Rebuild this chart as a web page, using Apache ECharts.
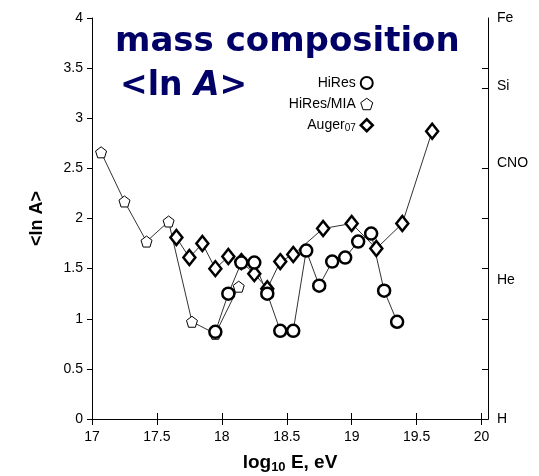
<!DOCTYPE html>
<html>
<head>
<meta charset="utf-8">
<script src="https://cdn.jsdelivr.net/npm/echarts@6/dist/echarts.min.js"></script>
<style>
  html, body { margin: 0; padding: 0; background: #fff; }
  #chart { width: 539px; height: 476px; }
</style>
</head>
<body>
<div id="chart"></div>
<script>
// HiRes
var hiresE = [17.95, 18.05, 18.15, 18.25, 18.35, 18.45, 18.55, 18.65, 18.75, 18.85, 18.95, 19.05, 19.15, 19.25, 19.35]
var hiresLnA = [0.87, 1.25, 1.56, 1.56, 1.25, 0.88, 0.88, 1.68, 1.33, 1.57, 1.61, 1.77, 1.85, 1.28, 0.97]
// HiRes/MIA
var miaE = [17.07, 17.25, 17.42, 17.59, 17.77, 17.95, 18.13]
var miaLnA = [2.66, 2.17, 1.77, 1.97, 0.97, 0.85, 1.32]
// Auger07
var augerE = [17.65, 17.75, 17.85, 17.95, 18.05, 18.15, 18.25, 18.35, 18.45, 18.55, 18.78, 19.0, 19.19, 19.39, 19.62]
var augerLnA = [1.81, 1.61, 1.75, 1.50, 1.62, 1.57, 1.45, 1.30, 1.57, 1.64, 1.90, 1.95, 1.70, 1.95, 2.87]

var xTicks = [17, 17.5, 18, 18.5, 19, 19.5, 20]
var rightTicks = [0.5, 1, 1.5, 2, 2.5, 3.3, 3.5]
var elementNames = ['H', 'He', 'CNO', 'Si', 'Fe']
var elementLnA = [0, 1.39, 2.55, 3.32, 4]

function pairs(xs, ys) {
  return xs.map(function (x, i) { return [x, ys[i]] })
}

var pentagon = 'path://M0,-1 L0.951,-0.309 L0.588,0.809 L-0.588,0.809 L-0.951,-0.309 Z'
var font = 'Liberation Sans'

var chart = echarts.init(document.getElementById('chart'), null, { renderer: 'canvas' })

var option = {
  backgroundColor: '#fff',
  animation: false,
  title: [{
    text: 'mass composition',
    left: 115,
    top: 25,
    padding: 0,
    textStyle: { fontFamily: 'DejaVu Sans', fontWeight: 'bold', fontSize: 34, color: '#000066' }
  }, {
    text: '<ln {i|A}>',
    left: 120,
    top: 70,
    padding: 0,
    textStyle: {
      fontFamily: 'DejaVu Sans', fontWeight: 'bold', fontSize: 33, color: '#000066',
      rich: { i: { fontFamily: 'DejaVu Sans', fontWeight: 'bold', fontStyle: 'italic', fontSize: 33, color: '#000066' } }
    }
  }],
  legend: {
    orient: 'vertical',
    right: 160,
    top: 71,
    align: 'right',
    itemGap: 7,
    itemWidth: 12,
    itemHeight: 12,
    textStyle: {
      fontFamily: font, fontSize: 14, color: '#000',
      rich: { sub: { fontFamily: font, fontSize: 10, color: '#000', padding: [6, 0, 0, 0] } }
    },
    formatter: function (name) {
      return name == 'Auger07' ? 'Auger{sub|07}' : name
    },
    data: [
      { name: 'HiRes', icon: 'circle', itemStyle: { color: '#fff', borderColor: '#000', borderWidth: 2 } },
      { name: 'HiRes/MIA', icon: pentagon, itemStyle: { color: '#fff', borderColor: '#000', borderWidth: 1 } },
      { name: 'Auger07', icon: 'diamond', itemStyle: { color: '#fff', borderColor: '#000', borderWidth: 2.5 } }
    ]
  },
  grid: { left: 92, right: 51, top: 18, bottom: 57, outerBoundsMode: 'none', containLabel: false },
  xAxis: [{
    type: 'value',
    min: 17,
    max: 20.05,
    position: 'bottom',
    name: 'log{sub|10} E, eV',
    nameLocation: 'middle',
    nameGap: 33,
    nameTextStyle: {
      fontFamily: font, fontSize: 19, fontWeight: 'bold', color: '#000',
      rich: { sub: { fontFamily: font, fontSize: 13, fontWeight: 'bold', color: '#000', padding: [9, 0, 0, 0] } }
    },
    axisLine: { show: true, lineStyle: { color: '#000', width: 1 } },
    axisTick: { show: true, inside: true, length: 6, customValues: xTicks, lineStyle: { color: '#000' } },
    axisLabel: { customValues: xTicks, margin: 11, fontFamily: font, fontSize: 14, color: '#000' },
    splitLine: { show: false }
  }, {
    type: 'value',
    min: 17,
    max: 20.05,
    position: 'top',
    axisLine: { show: true, lineStyle: { color: '#000', width: 1 } },
    axisTick: { show: true, inside: true, length: 6, customValues: xTicks, lineStyle: { color: '#000' } },
    axisLabel: { show: false },
    splitLine: { show: false }
  }],
  yAxis: [{
    type: 'value',
    min: 0,
    max: 4,
    interval: 0.5,
    position: 'left',
    name: '<ln A>',
    nameLocation: 'middle',
    nameGap: 46,
    nameTextStyle: { fontFamily: font, fontSize: 18, fontWeight: 'bold', color: '#000' },
    axisLine: { show: true, lineStyle: { color: '#000', width: 1 } },
    axisTick: { show: true, length: 5, lineStyle: { color: '#000' } },
    axisLabel: { margin: 9, fontFamily: font, fontSize: 14, color: '#000' },
    splitLine: { show: false }
  }, {
    type: 'value',
    min: 0,
    max: 4,
    position: 'right',
    axisLine: { show: true, lineStyle: { color: '#000', width: 1 } },
    axisTick: { show: true, inside: true, length: 6, customValues: rightTicks, lineStyle: { color: '#000' } },
    axisLabel: {
      customValues: elementLnA,
      margin: 9,
      fontFamily: font, fontSize: 14, color: '#000',
      formatter: function (value) {
        var i = elementLnA.indexOf(value)
        return i >= 0 ? elementNames[i] : ''
      }
    },
    splitLine: { show: false }
  }],
  series: [{
    name: 'HiRes/MIA',
    type: 'line',
    data: pairs(miaE, miaLnA),
    symbol: pentagon,
    symbolSize: 11,
    lineStyle: { color: '#333', width: 1 },
    itemStyle: { color: '#fff', borderColor: '#000', borderWidth: 1 }
  }, {
    name: 'Auger07',
    type: 'line',
    data: pairs(augerE, augerLnA),
    symbol: 'diamond',
    symbolSize: [12, 15],
    lineStyle: { color: '#333', width: 1 },
    itemStyle: { color: '#fff', borderColor: '#000', borderWidth: 2.5 }
  }, {
    name: 'HiRes',
    type: 'line',
    data: pairs(hiresE, hiresLnA),
    symbol: 'circle',
    symbolSize: 12,
    lineStyle: { color: '#333', width: 1 },
    itemStyle: { color: '#fff', borderColor: '#000', borderWidth: 2.5 }
  }]
}

chart.setOption(option)
</script>
</body>
</html>
